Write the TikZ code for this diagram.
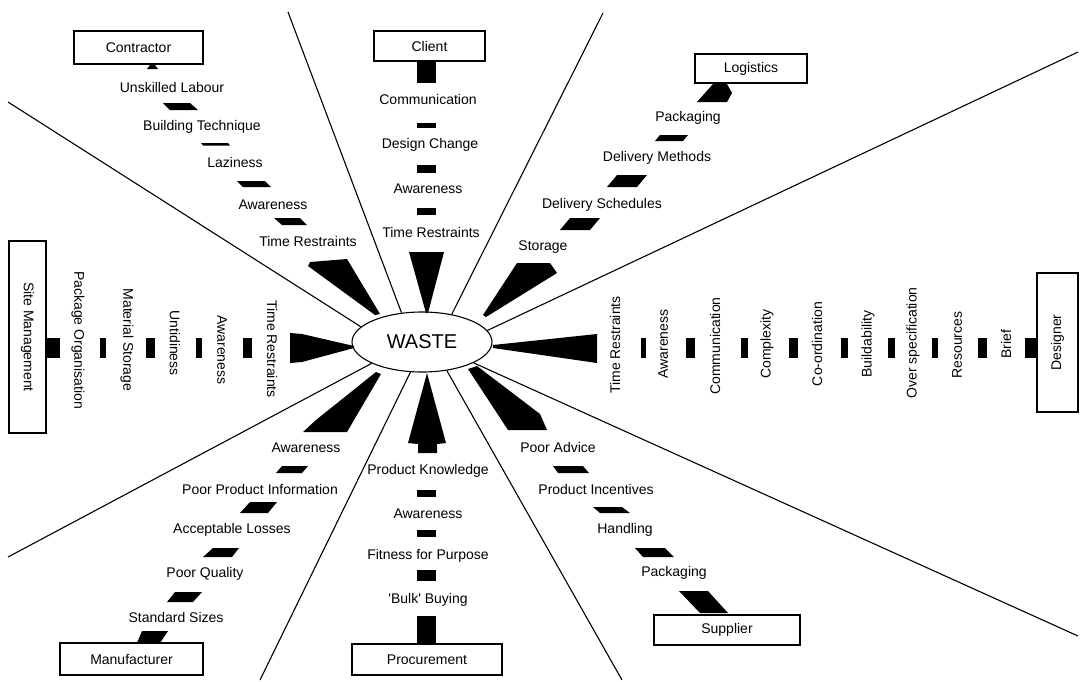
\documentclass[tikz,border=0pt]{standalone}
\usepackage{fontspec}
\setmainfont{Liberation Sans}
\usetikzlibrary{shapes.geometric}
\begin{document}
\begin{tikzpicture}[x=1pt,y=-1pt,
  lbl/.style={font=\fontsize{14}{16}\selectfont, inner sep=0pt},
  src/.style={draw, line width=1.1pt, font=\fontsize{14}{16}\selectfont, inner sep=0pt, fill=white},
  sep/.style={line width=1.1pt},
  blk/.style={fill=black}]
\useasboundingbox[fill=white] (0,0) rectangle (1083,681);

% central effect
\node[ellipse, draw, line width=1.1pt, minimum width=140pt, minimum height=60pt, inner sep=0pt,
      font=\fontsize{20}{24}\selectfont] (waste) at (422,342) {WASTE};

% dividing lines between the eight cause groups
\coordinate (s1) at (8,102);
\coordinate (s2) at (288,12);
\coordinate (s3) at (603,13);
\coordinate (s4) at (1078,52);
\coordinate (s5) at (1078,636);
\coordinate (s6) at (622,680);
\coordinate (s7) at (260,680);
\coordinate (s8) at (8,557);
\draw[sep] (s1) -- (waste.166);
\draw[sep] (s2) -- (waste.125);
\draw[sep] (s3) -- (waste.43);
\draw[sep] (s4) -- (waste.10);
\draw[sep] (s5) -- (waste.-22);
\draw[sep] (s6) -- (waste.-49);
\draw[sep] (s7) -- (waste.-111);
\draw[sep] (s8) -- (waste.-157);

% ---------------- Contractor ----------------
\node[src, minimum width=129pt, minimum height=33pt] (con) at (138.5,47.5) {Contractor};
\node[lbl] (con1) at (172,87) {Unskilled Labour};
\node[lbl] (con2) at (202,127) {Building Technique};
\node[lbl] (con3) at (235,162) {Laziness};
\node[lbl] (con4) at (273,205) {Awareness};
\node[lbl] (con5) at (308,241) {Time Restraints};
\fill[blk] (150,65) -- (155,65) -- (158,69) -- (147,69) -- cycle;
\fill[blk] (163,103) -- (190,103) -- (198,110) -- (170,110) -- cycle;
\fill[blk] (201,143) -- (228,143) -- (230,145.5) -- (203,145.5) -- cycle;
\fill[blk] (237,181) -- (265,181) -- (271,187) -- (243,187) -- cycle;
\fill[blk] (274,218) -- (300,218) -- (307,225) -- (282,225) -- cycle;
\fill[blk] (308,266) -- (310,262) -- (347,259) -- (380,314) -- (375,315) -- cycle;

% ---------------- Client ----------------
\node[src, minimum width=111pt, minimum height=30pt] (cli) at (429.5,46) {Client};
\node[lbl] (cli1) at (428,99) {Communication};
\node[lbl] (cli2) at (430,145) {Design Change};
\node[lbl] (cli3) at (428,189) {Awareness};
\node[lbl] (cli4) at (431,232) {Time Restraints};
\fill[blk] (417,61) rectangle (436,83);
\fill[blk] (417,123) rectangle (436,128);
\fill[blk] (417,165) rectangle (436,173);
\fill[blk] (417,208) rectangle (436,215);
\fill[blk] (409,252) -- (444,252) -- (428,313) -- (426,313) -- cycle;

% ---------------- Logistics ----------------
\node[src, minimum width=112pt, minimum height=29pt] (log) at (751,68.5) {Logistics};
\node[lbl] (log1) at (688,118) {Packaging};
\node[lbl] (log2) at (657,158) {Delivery Methods};
\node[lbl] (log3) at (602,205) {Delivery Schedules};
\node[lbl] (log4) at (543,247) {Storage};
\fill[blk] (713,84) -- (727,84) -- (732,93) -- (727,102) -- (697,102) -- cycle;
\fill[blk] (660,135) -- (688,135) -- (683,141) -- (655,141) -- cycle;
\fill[blk] (617,175) -- (647,175) -- (637,187) -- (607,187) -- cycle;
\fill[blk] (570,218) -- (600,218) -- (590,230) -- (560,230) -- cycle;
\fill[blk] (483,315) -- (517,263) -- (550,263) -- (557,273) -- (486,317) -- cycle;

% ---------------- Site Management ----------------
\node[src, rotate=-90, minimum width=192pt, minimum height=37pt] (sit) at (27.5,337) {Site Management};
\node[lbl, rotate=-90] (sit1) at (78,340) {Package Organisation};
\node[lbl, rotate=-90] (sit2) at (127,340) {Material Storage};
\node[lbl, rotate=-90] (sit3) at (175,343) {Untidiness};
\node[lbl, rotate=-90] (sit4) at (222,350) {Awareness};
\node[lbl, rotate=-90] (sit5) at (272,349) {Time Restraints};
\fill[blk] (47,338) rectangle (60,358);
\fill[blk] (100,338) rectangle (106,358);
\fill[blk] (146,338) rectangle (155,358);
\fill[blk] (196,338) rectangle (202,358);
\fill[blk] (243,338) rectangle (252,358);
\fill[blk] (290,333) -- (302,334) -- (354,346) -- (354,348) -- (302,362) -- (290,363) -- cycle;

% ---------------- Designer ----------------
\node[src, rotate=90, minimum width=139pt, minimum height=41pt] (des) at (1057.5,342.5) {Designer};
\node[lbl, rotate=90] (des1) at (1006,344) {Brief};
\node[lbl, rotate=90] (des2) at (957,345) {Resources};
\node[lbl, rotate=90] (des3) at (913,343) {Over specification};
\node[lbl, rotate=90] (des4) at (868,344) {Buildability};
\node[lbl, rotate=90] (des5) at (817,344) {Co-ordination};
\node[lbl, rotate=90] (des6) at (767,344) {Complexity};
\node[lbl, rotate=90] (des7) at (715,346) {Communication};
\node[lbl, rotate=90] (des8) at (663,344) {Awareness};
\node[lbl, rotate=90] (des9) at (615,345) {Time Restraints};
\fill[blk] (1025,338) rectangle (1037,358);
\fill[blk] (978,338) rectangle (987,358);
\fill[blk] (932,338) rectangle (938,358);
\fill[blk] (888,338) rectangle (895,358);
\fill[blk] (841,338) rectangle (848,358);
\fill[blk] (789,338) rectangle (798,358);
\fill[blk] (741,338) rectangle (748,358);
\fill[blk] (686,338) rectangle (695,358);
\fill[blk] (641,338) rectangle (646,358);
\fill[blk] (493,345) -- (597,334) -- (597,363) -- (493,348) -- cycle;

% ---------------- Manufacturer ----------------
\node[src, minimum width=143pt, minimum height=32pt] (man) at (131.5,659) {Manufacturer};
\node[lbl] (man1) at (176,617) {Standard Sizes};
\node[lbl] (man2) at (205,574) {Poor Quality};
\node[lbl] (man3) at (232,530) {Acceptable Losses};
\node[lbl] (man4) at (260,489) {Poor Product Information};
\node[lbl] (man5) at (306,448) {Awareness};
\fill[blk] (142,631) -- (168,631) -- (160,643) -- (137,643) -- cycle;
\fill[blk] (175,592) -- (202,592) -- (193,602) -- (167,602) -- cycle;
\fill[blk] (213,548) -- (239,548) -- (232,557) -- (203,557) -- cycle;
\fill[blk] (250,502) -- (277,502) -- (268,513) -- (240,513) -- cycle;
\fill[blk] (282,466) -- (308,466) -- (302,473) -- (276,473) -- cycle;
\fill[blk] (303,432) -- (347,432) -- (381,374) -- (376,372) -- (316,420) -- cycle;

% ---------------- Procurement ----------------
\node[src, minimum width=150pt, minimum height=31pt] (pro) at (427,659.5) {Procurement};
\node[lbl] (pro1) at (428,600) {\textquotesingle Bulk\textquotesingle{} Buying};
\node[lbl] (pro2) at (428,556) {Fitness for Purpose};
\node[lbl] (pro3) at (428,514) {Awareness};
\node[lbl] (pro4) at (428,471) {Product Knowledge};
\fill[blk] (417,616) rectangle (436,644);
\fill[blk] (417,570) rectangle (436,581);
\fill[blk] (417,530) rectangle (436,537);
\fill[blk] (417,490) rectangle (436,497);
\fill[blk] (427,373) -- (446,443) -- (437,444) -- (437,453) -- (418,453) -- (418,444) -- (408,443) -- cycle;

% ---------------- Supplier ----------------
\node[src, minimum width=146pt, minimum height=30pt] (sup) at (727,630) {Supplier};
\node[lbl] (sup1) at (674,573) {Packaging};
\node[lbl] (sup2) at (625,530) {Handling};
\node[lbl] (sup3) at (596,489) {Product Incentives};
\node[lbl] (sup4) at (558,447) {Poor Advice};
\fill[blk] (679,591) -- (708,591) -- (728,613) -- (700,613) -- cycle;
\fill[blk] (635,548) -- (665,548) -- (674,557) -- (643,557) -- cycle;
\fill[blk] (593,507) -- (622,507) -- (630,513) -- (600,513) -- cycle;
\fill[blk] (553,466) -- (583,466) -- (589,473) -- (558,473) -- cycle;
\fill[blk] (468,369) -- (477,366) -- (540,414) -- (547,430) -- (508,430) -- cycle;
\end{tikzpicture}
\end{document}
